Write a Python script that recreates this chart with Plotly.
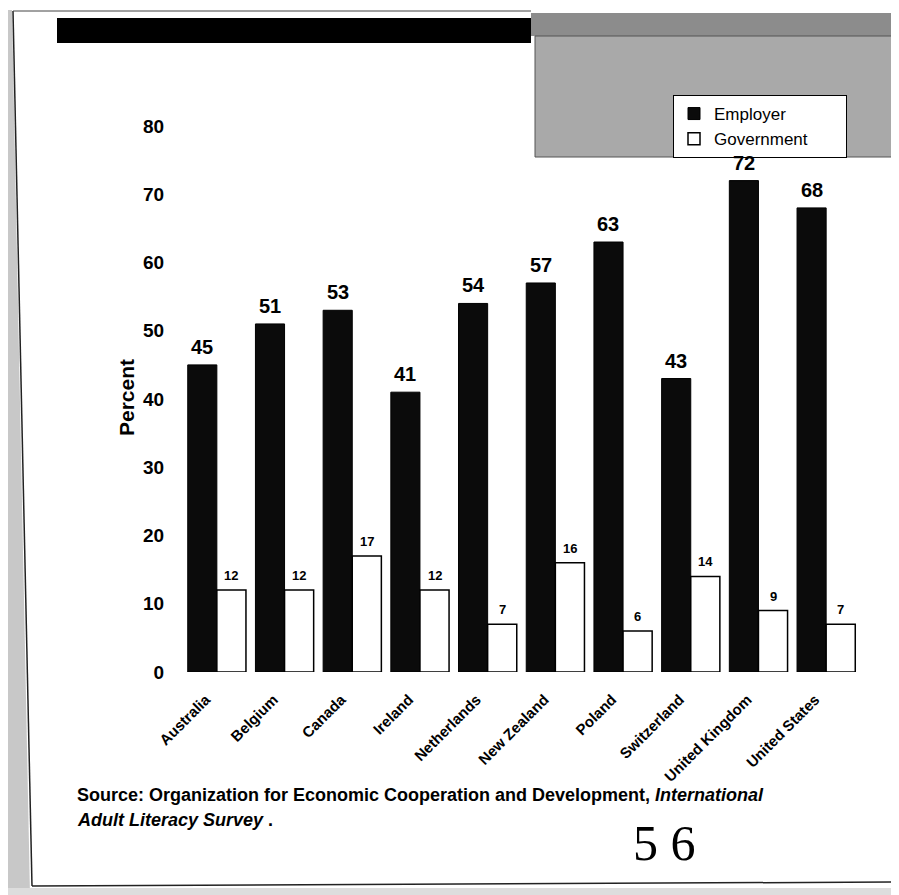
import plotly.graph_objects as go

countries = ['Australia', 'Belgium', 'Canada', 'Ireland', 'Netherlands',
             'New Zealand', 'Poland', 'Switzerland', 'United Kingdom', 'United States']
employer = [45, 51, 53, 41, 54, 57, 63, 43, 72, 68]
government = [12, 12, 17, 12, 7, 16, 6, 14, 9, 7]
y_ticks = [0, 10, 20, 30, 40, 50, 60, 70, 80]
series_names = ['Employer', 'Government']

FONT = "Liberation Sans, Arial, Helvetica, sans-serif"
OFF = 8  # page body margin in the browser
W_FIG, H_FIG = 899 - OFF, 895 - OFF
# plot area in screen pixels
L, R, T, B = 183, 860, 126, 672
PW, PH = R - L, B - T


def px(x):
    return (x - L) / PW


def py(y):
    return (B - y) / PH


BW = 0.43
PAD = '\u00a0' * 7  # widens the legend box like the original

fig = go.Figure()
fig.add_trace(go.Bar(
    name=series_names[0] + PAD, x=countries, y=employer, width=BW, offset=-BW,
    marker=dict(color='#0b0b0b', line=dict(color='#000000', width=1)),
))
fig.add_trace(go.Bar(
    name=series_names[1] + PAD, x=countries, y=government, width=BW, offset=0,
    marker=dict(color='#ffffff', line=dict(color='#000000', width=1.5)),
))

annotations = []
bar_px = BW * PW / len(countries)
for c, v in zip(countries, employer):
    annotations.append(dict(
        x=c, y=v, xref='x', yref='y', text=str(v), showarrow=False,
        xshift=-bar_px / 2, yshift=5, yanchor='bottom',
        font=dict(family=FONT, size=20, color='#000000', weight='bold')))
for c, v in zip(countries, government):
    annotations.append(dict(
        x=c, y=v, xref='x', yref='y', text=str(v), showarrow=False,
        xshift=bar_px / 2, yshift=5, yanchor='bottom',
        font=dict(family=FONT, size=13, color='#000000', weight='bold')))

# axis title
annotations.append(dict(
    x=px(126), y=py(398), xref='paper', yref='paper', text='Percent',
    textangle=-90, showarrow=False, xanchor='center', yanchor='middle',
    font=dict(family=FONT, size=21, color='#000000', weight='bold')))

# source note
annotations.append(dict(
    x=px(75), y=py(795), xref='paper', yref='paper', xanchor='left', yanchor='middle',
    text='Source: Organization for Economic Cooperation and Development, <i>International</i>',
    showarrow=False, font=dict(family=FONT, size=18, color='#000000', weight='bold')))
annotations.append(dict(
    x=px(75), y=py(820), xref='paper', yref='paper', xanchor='left', yanchor='middle',
    text='<i>Adult Literacy Survey</i> .',
    showarrow=False, font=dict(family=FONT, size=18, color='#000000', weight='bold')))

# page number
annotations.append(dict(
    x=px(664), y=py(843), xref='paper', yref='paper', xanchor='center', yanchor='middle',
    text='5 6', showarrow=False,
    font=dict(family='Liberation Serif, Times New Roman, serif', size=50, color='#000000')))

shapes = []
# decorative page elements
shapes.append(dict(type='rect', xref='paper', yref='paper', layer='below',
                   x0=px(57), x1=px(531), y0=py(43), y1=py(18),
                   fillcolor='#000000', line=dict(width=0)))
shapes.append(dict(type='rect', xref='paper', yref='paper', layer='below',
                   x0=px(531), x1=px(899), y0=py(36), y1=py(13),
                   fillcolor='#8c8c8c', line=dict(width=0)))
shapes.append(dict(type='rect', xref='paper', yref='paper', layer='below',
                   x0=px(535), x1=px(899), y0=py(157), y1=py(36),
                   fillcolor='#a9a9a9', line=dict(color='#555555', width=1)))
# skewed left margin of the scanned page
shapes.append(dict(type='path', xref='paper', yref='paper', layer='below',
                   path='M {0},{1} L {2},{1} L {3},{4} L {0},{4} Z'.format(
                       px(0), py(10), px(12), px(30), py(895)),
                   fillcolor='#c8c8c8', line=dict(width=0)))
shapes.append(dict(type='line', xref='paper', yref='paper', layer='below',
                   x0=px(13), x1=px(32), y0=py(11), y1=py(886),
                   line=dict(color='#222222', width=1.5)))
shapes.append(dict(type='line', xref='paper', yref='paper', layer='below',
                   x0=px(13), x1=px(531), y0=py(11), y1=py(11),
                   line=dict(color='#444444', width=1)))
shapes.append(dict(type='line', xref='paper', yref='paper', layer='below',
                   x0=px(32), x1=px(899), y0=py(886), y1=py(882),
                   line=dict(color='#222222', width=1.5)))
shapes.append(dict(type='rect', xref='paper', yref='paper', layer='below',
                   x0=px(0), x1=px(899), y0=py(895), y1=py(888),
                   fillcolor='#dddddd', line=dict(width=0)))

fig.update_layout(
    width=W_FIG, height=H_FIG,
    margin=dict(l=L - OFF, r=W_FIG - (R - OFF), t=T - OFF, b=H_FIG - (B - OFF), pad=0),
    paper_bgcolor='#ffffff', plot_bgcolor='rgba(0,0,0,0)',
    barmode='overlay',
    showlegend=True,
    legend=dict(
        x=px(673), y=py(95), xanchor='left', yanchor='top',
        bgcolor='#ffffff', bordercolor='#000000', borderwidth=1,
        font=dict(family=FONT, size=17, color='#000000'),
        tracegroupgap=0, itemwidth=30,
    ),
    xaxis=dict(
        type='category', categoryorder='array', categoryarray=countries,
        range=[-0.5, len(countries) - 0.5],
        showline=False, showgrid=False, zeroline=False,
        ticks='outside', ticklen=12, tickcolor='rgba(0,0,0,0)', tickangle=-45,
        ticklabelshift=-11,
        tickfont=dict(family=FONT, size=15, color='#000000', weight='bold'),
    ),
    yaxis=dict(
        range=[0, 80], tickvals=y_ticks,
        showline=False, showgrid=False, zeroline=False,
        ticks='outside', ticklen=14, tickcolor='rgba(0,0,0,0)',
        tickfont=dict(family=FONT, size=19, color='#000000', weight='bold'),
    ),
    annotations=annotations,
    shapes=shapes,
)

fig.write_html('out.html')
